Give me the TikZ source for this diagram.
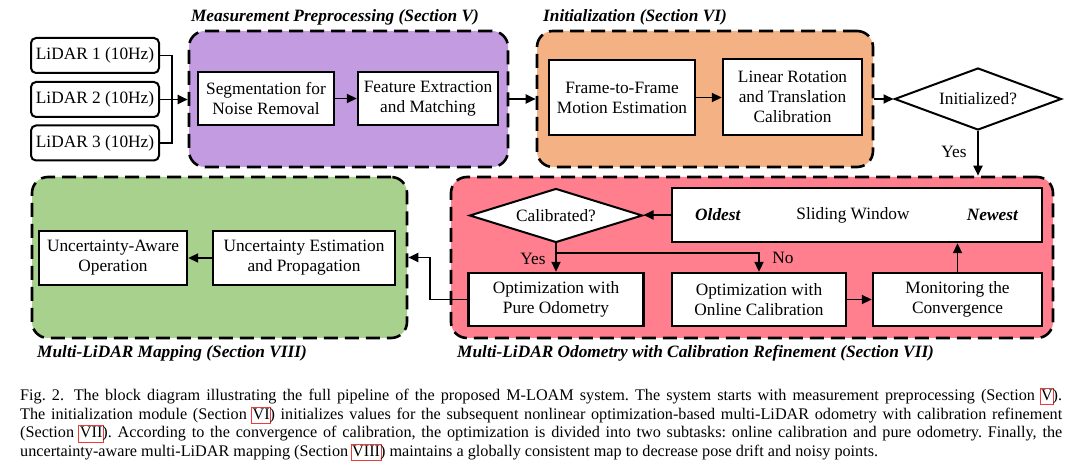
\documentclass[tikz,border=0pt]{standalone}
\usepackage{fontspec}
\setmainfont{Liberation Serif}
\usetikzlibrary{arrows.meta,shapes.geometric}
\definecolor{cpur}{RGB}{195,155,224}
\definecolor{cora}{RGB}{244,177,131}
\definecolor{cgrn}{RGB}{169,209,142}
\definecolor{cpnk}{RGB}{255,127,143}
\definecolor{linkred}{RGB}{235,60,60}
\newcommand\fs{\fontsize{17.3}{20}\selectfont}
\newcommand\lnk[1]{\leavevmode\begingroup\setbox0=\hbox{#1}%
\rlap{\color{linkred}\kern-1.5pt\lower4.5pt\vbox{\hrule height0.8pt width\dimexpr\wd0+3pt\relax\hbox{\vrule width0.8pt height15.4pt\kern\dimexpr\wd0+1.4pt\relax\vrule width0.8pt height15.4pt}\hrule height0.8pt width\dimexpr\wd0+3pt\relax}}%
\box0\endgroup}
\begin{document}
\frenchspacing
\begin{tikzpicture}[x=1pt,y=-1pt,
  grp/.style={draw=black, line width=2.6pt, dash pattern=on 14pt off 7pt, rounded corners=16pt, inner sep=0pt},
  blk/.style={draw=black, fill=white, line width=2.4pt, align=center, inner sep=0pt, font=\fs},
  lid/.style={draw=black, fill=white, line width=2pt, rounded corners=5pt, inner sep=0pt, font=\fs, minimum width=128pt, minimum height=35pt},
  dia/.style={diamond, draw=black, fill=white, line width=2pt, inner sep=0pt, font=\fs},
  ttl/.style={inner sep=0pt, font=\fs\bfseries\itshape},
  lbl/.style={inner sep=0pt, font=\fs},
  arr/.style={line width=1.9pt, -{Triangle[length=10pt,width=9pt]}},
  ln/.style={line width=1.9pt},
]
\fill[white] (0,0) rectangle (1080,465);
\useasboundingbox (0,0) rectangle (1080,465);
% groups
\node[grp, fill=cpur, minimum width=319pt, minimum height=136pt] (prep) at (348.5,99) {};
\node[grp, fill=cora, minimum width=336pt, minimum height=136pt] (initg) at (705,99) {};
\node[grp, fill=cpnk, minimum width=602pt, minimum height=161pt] (odo) at (752,257.5) {};
\node[grp, fill=cgrn, minimum width=375pt, minimum height=161pt] (map) at (219.5,257.5) {};
% titles
\node[ttl] (tprep) at (335,17) {Measurement Preprocessing (Section V)};
\node[ttl, anchor=west] (tinit) at (543,17) {Initialization (Section VI)};
\node[ttl, anchor=west] (tmap) at (37,353) {Multi-LiDAR Mapping (Section VIII)};
\node[ttl, anchor=west] (todo) at (457,353) {Multi-LiDAR Odometry with Calibration Refinement (Section VII)};
% lidars
\node[lid] (lid1) at (95,55.5) {LiDAR 1 (10Hz)};
\node[lid] (lid2) at (95,99.5) {LiDAR 2 (10Hz)};
\node[lid] (lid3) at (95,143) {LiDAR 3 (10Hz)};
% preprocessing
\node[blk, minimum width=136pt, minimum height=53pt] (seg) at (266,98.5) {Segmentation for\\Noise Removal};
\node[blk, minimum width=140pt, minimum height=53pt] (feat) at (428,98.5) {Feature Extraction\\and Matching};
% init
\node[blk, minimum width=146pt, minimum height=75pt] (frame) at (622,97.5) {Frame-to-Frame\\Motion Estimation};
\node[blk, minimum width=139pt, minimum height=76pt] (linr) at (792.5,97) {Linear Rotation\\and Translation\\Calibration};
\node[dia, aspect=2.7, minimum width=167pt, minimum height=62pt] (initq) at (978,99) {Initialized?};
% odometry
\node[dia, aspect=3.2, minimum width=173pt, minimum height=54pt] (calib) at (556,215.5) {Calibrated?};
\node[blk, minimum width=370pt, minimum height=54pt] (sw) at (857,215) {};
\node[lbl, anchor=west, font=\fs\bfseries\itshape] (old) at (695,215) {Oldest};
\node[lbl] (swt) at (853,215) {Sliding Window};
\node[lbl, anchor=east, font=\fs\bfseries\itshape] (new) at (1018,215) {Newest};
\node[blk, minimum width=175pt, minimum height=53pt] (pure) at (556,299.5) {Optimization with\\Pure Odometry};
\node[blk, minimum width=174pt, minimum height=53pt] (online) at (759,299.5) {Optimization with\\Online Calibration};
\node[blk, minimum width=169pt, minimum height=53pt] (mon) at (957.5,299.5) {Monitoring the\\Convergence};
% mapping
\node[blk, minimum width=148pt, minimum height=54pt] (ua) at (113,258) {Uncertainty-Aware\\Operation};
\node[blk, minimum width=182pt, minimum height=54pt] (ue) at (304,258) {Uncertainty Estimation\\and Propagation};
% connectors
\coordinate (jt) at (172,55.5);
\coordinate (jb) at (172,143);
\draw[ln] (lid1.east) -- (jt) -- (jb) -- (lid3.east);
\draw[arr] (lid2.east) -- (lid2.east -| prep.west);
\draw[arr] (seg.east) -- (seg.east -| feat.west);
\draw[arr] (prep.east) -- (initg.west);
\draw[arr] (frame.east) -- (frame.east -| linr.west);
\draw[arr] (initg.east) -- (initq.west);
\draw[arr] (initq.south) -- (initq.south |- odo.north);
\node[lbl] (yes1) at (954,152) {Yes};
\draw[arr] (sw.west) -- (sw.west -| calib.east);
\coordinate (cs) at (556,253);
\draw[arr] (calib.south) -- (pure.north);
\draw[arr] (cs) -| (online.north);
\node[lbl] (yes2) at (533,259) {Yes};
\node[lbl] (no) at (783,258) {No};
\draw[arr] (online.east) -- (mon.west);
\draw[arr] (mon.north) -- (mon.north |- sw.south);
\coordinate (pm) at (430,0);
\draw[arr] (pure.west) -| (pm |- map.east) -- (map.east);
\draw[arr] (ue.west) -- (ua.east);
% caption
\node[anchor=north west, inner sep=0pt, text width=1042pt, align=justify, font=\fontsize{16.2}{18.6}\selectfont] (cap) at (20,388) {Fig.~2.\hskip0.6em The block diagram illustrating the full pipeline of the proposed M-LOAM system. The system starts with measurement preprocessing (Section~\lnk{V}).\linebreak The initialization module (Section~\lnk{VI}) initializes values for the subsequent nonlinear optimization-based multi-LiDAR odometry with calibration refinement\linebreak (Section~\lnk{VII}). According to the convergence of calibration, the optimization is divided into two subtasks: online calibration and pure odometry. Finally, the\linebreak uncertainty-aware multi-LiDAR mapping (Section~\lnk{VIII}) maintains a globally consistent map to decrease pose drift and noisy points.};
\end{tikzpicture}
\end{document}
